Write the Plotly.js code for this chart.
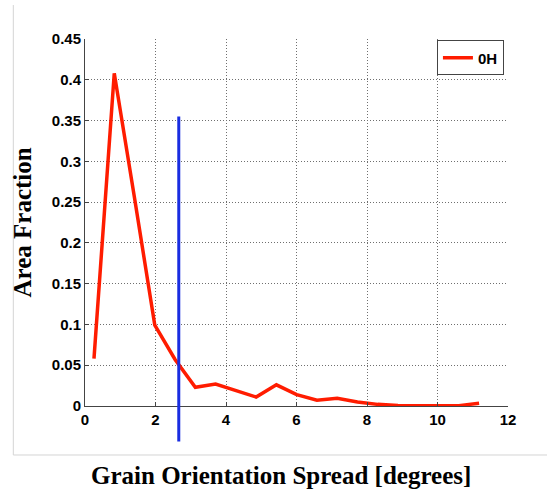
<!DOCTYPE html>
<html>
<head>
<meta charset="utf-8">
<script src="https://cdn.plot.ly/plotly-3.0.1.min.js"></script>
<style>
  html, body { margin: 0; padding: 0; background: #fff; }
  #chart { width: 547px; height: 492px; }
</style>
</head>
<body>
<div id="chart"></div>
<script>
// Grain orientation spread histogram (area fraction per bin)
const gosDegrees = [0.255, 0.83, 1.405, 1.98, 2.555, 3.13, 3.705, 4.28, 4.855, 5.43,
                    6.005, 6.58, 7.155, 7.73, 8.305, 8.88, 9.455, 10.03, 10.605, 11.18];
const areaFraction = [0.058, 0.408, 0.255, 0.099, 0.057, 0.023, 0.027, 0.019, 0.011, 0.026,
                      0.014, 0.007, 0.0095, 0.005, 0.002, 0.0005, 0.0003, 0.0003, 0.0003, 0.0035];
const seriesName = '0H';

// Vertical marker line (x position, top and bottom in data units)
const markerX = 2.66;
const markerTop = 0.355;
const markerBottom = -0.0435;

// Axis ticks
const xTickVals = [0, 2, 4, 6, 8, 10, 12];
const xTickText = ['0', '2', '4', '6', '8', '10', '12'];
const yTickVals = [0, 0.05, 0.1, 0.15, 0.2, 0.25, 0.3, 0.35, 0.4, 0.45];
const yTickText = ['0', '0.05', '0.1', '0.15', '0.2', '0.25', '0.3', '0.35', '0.4', '0.45'];

const xRange = [0, 12];
const yRange = [0, 0.45];

const xTitle = 'Grain Orientation Spread [degrees]';
const yTitle = 'Area Fraction';

// y data value -> paper fraction, so the marker can run below the x axis
const yToPaper = v => (v - yRange[0]) / (yRange[1] - yRange[0]);

const tickFont = { family: 'Liberation Sans, Arial, sans-serif', size: 15, color: '#000', weight: 'bold' };
const titleFont = { family: 'Liberation Serif, Times New Roman, serif', size: 25, color: '#000', weight: 'bold' };

const axisCommon = {
  showline: true,
  linecolor: '#444',
  linewidth: 1,
  ticks: 'inside',
  ticklen: 4,
  tickcolor: '#444',
  tickfont: tickFont,
  showgrid: true,
  gridcolor: '#6f6f6f',
  gridwidth: 1,
  griddash: '1px,2px',
  zeroline: false,
  fixedrange: true
};

const traces = [{
  type: 'scatter',
  mode: 'lines',
  x: gosDegrees,
  y: areaFraction,
  name: seriesName,
  line: { color: 'rgb(255,28,0)', width: 3.5 },
  showlegend: true
}];

const layout = {
  width: 547,
  height: 492,
  margin: { l: 85, r: 39, t: 39, b: 86 },
  paper_bgcolor: '#fff',
  plot_bgcolor: '#fff',
  xaxis: Object.assign({}, axisCommon, {
    range: xRange,
    tickvals: xTickVals,
    ticktext: xTickText
  }),
  yaxis: Object.assign({}, axisCommon, {
    range: yRange,
    tickvals: yTickVals,
    ticktext: yTickText
  }),
  showlegend: true,
  legend: {
    x: 0.832, y: 0.996, xanchor: 'left', yanchor: 'top',
    bgcolor: '#fff', bordercolor: '#444', borderwidth: 1,
    font: tickFont
  },
  shapes: [
    {
      type: 'line', xref: 'x', yref: 'paper',
      x0: markerX, x1: markerX,
      y0: yToPaper(markerBottom), y1: yToPaper(markerTop),
      line: { color: 'rgb(25,45,225)', width: 3 }
    },
    // light figure frame, left and bottom edges
    {
      type: 'line', xref: 'paper', yref: 'paper',
      x0: -0.1695, x1: -0.1695, y0: 1.0926, y1: -0.1335,
      line: { color: '#d4d4d4', width: 1 }
    },
    {
      type: 'line', xref: 'paper', yref: 'paper',
      x0: -0.1695, x1: 1.095, y0: -0.1335, y1: -0.1335,
      line: { color: '#d4d4d4', width: 1 }
    }
  ],
  annotations: [
    {
      text: xTitle, xref: 'paper', yref: 'paper',
      x: 0.4634, y: -0.1907, xanchor: 'center', yanchor: 'middle',
      showarrow: false, font: titleFont
    },
    {
      text: yTitle, xref: 'paper', yref: 'paper',
      x: -0.1466, y: 0.5, xanchor: 'center', yanchor: 'middle',
      textangle: -90, showarrow: false, font: titleFont
    }
  ]
};

Plotly.newPlot('chart', traces, layout, { displayModeBar: false, staticPlot: true });
</script>
</body>
</html>
